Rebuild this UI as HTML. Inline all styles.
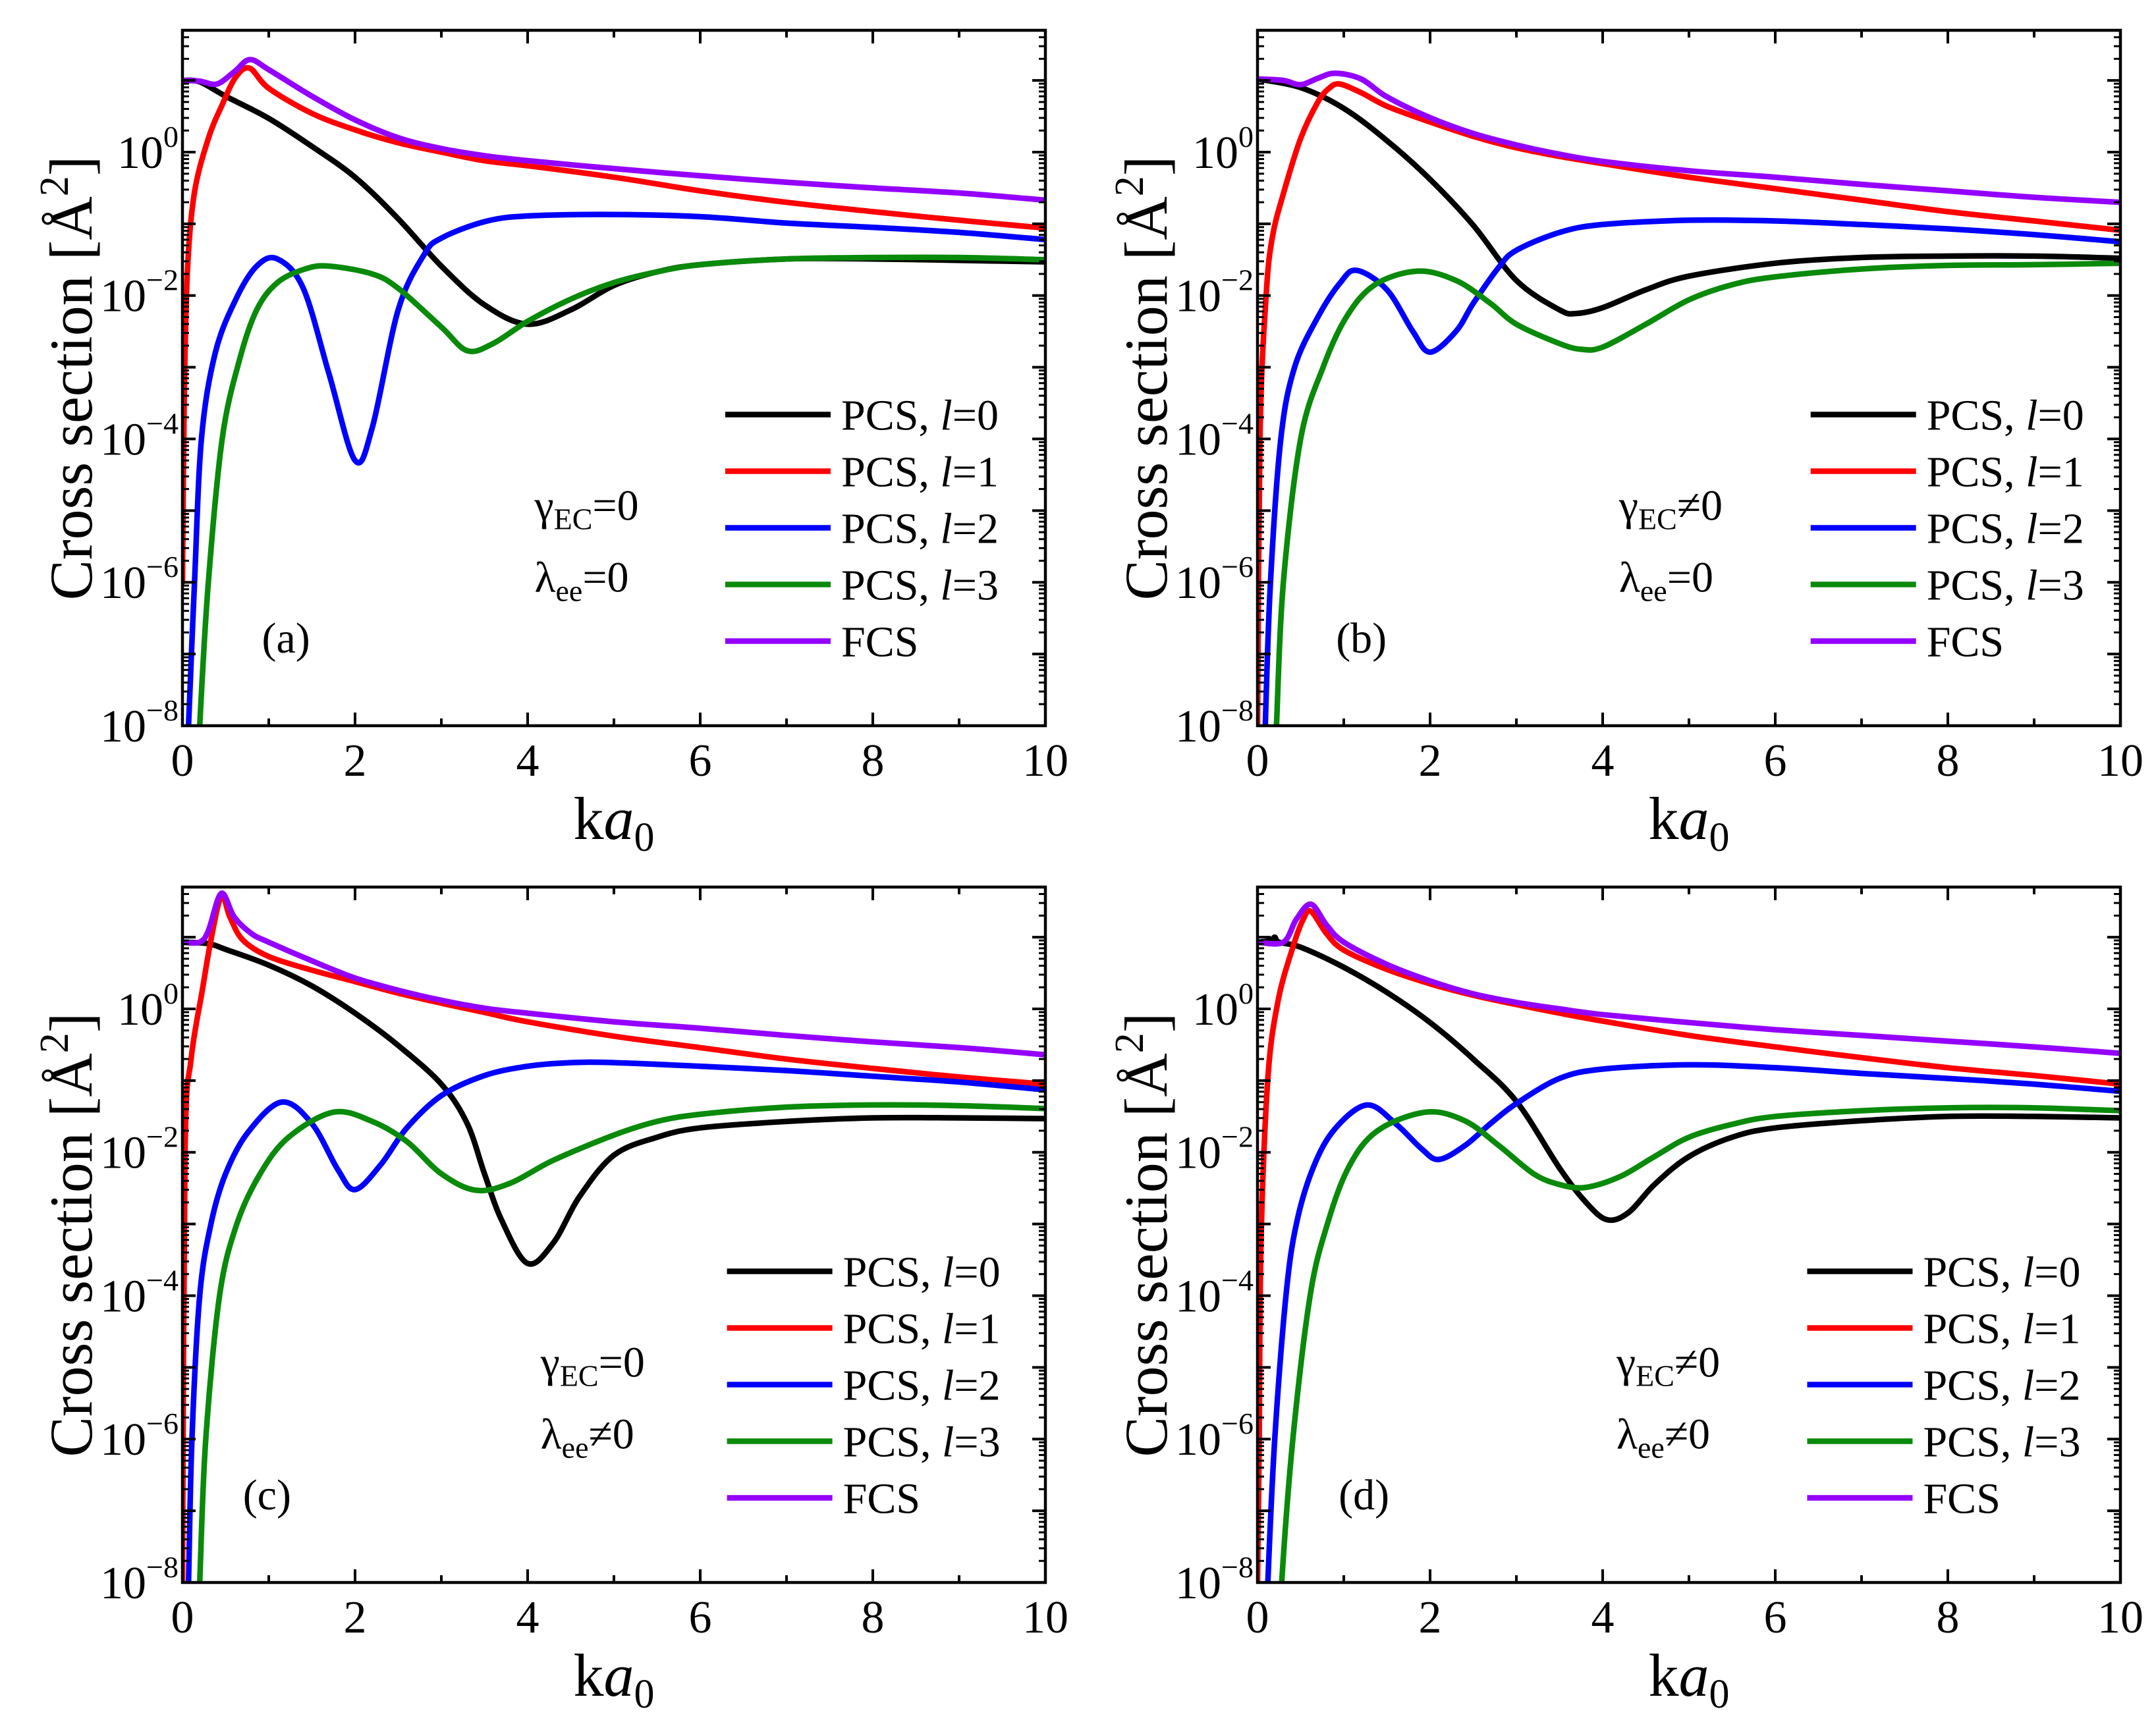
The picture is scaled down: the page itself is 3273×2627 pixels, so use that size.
<!DOCTYPE html>
<html><head><meta charset="utf-8"><style>
html,body{margin:0;padding:0;background:#fff;}
svg{display:block;}
svg text{font-family:"Liberation Serif","Times New Roman",serif;}
</style></head><body>
<svg id="fig" width="3273" height="2627" viewBox="0 0 3273 2627" xmlns="http://www.w3.org/2000/svg" font-family="Liberation Serif, serif"></svg>
<script>
// ---- Panel (a) data: x = ka0, y = log10(cross section) ----
const aL0x=[0,0.2,0.5,1,1.5,2,2.5,3,3.5,4,4.5,5,5.5,6,7,8,9,10];
const aL0y=[1.0,0.98,0.78,0.47,0.08,-0.35,-0.93,-1.59,-2.13,-2.4,-2.2,-1.86,-1.67,-1.57,-1.49,-1.49,-1.51,-1.53];
const aL1x=[0,0.02,0.056,0.137,0.3,0.46,0.62,0.78,1,1.5,2,2.5,3,3.5,4,5,6,7,8,9,10];
const aL1y=[-6,-3.5,-1.7,-0.58,0.19,0.66,1.05,1.17,0.89,0.54,0.31,0.13,0,-0.12,-0.19,-0.35,-0.54,-0.7,-0.83,-0.95,-1.06];
const aL2x=[0.05,0.07,0.14,0.22,0.38,0.62,0.86,1.1,1.4,1.7,2.0,2.2,2.5,2.8,3,3.5,4,5,6,7,8,9,10];
const aL2y=[-9,-8,-6,-4,-2.8,-2.05,-1.59,-1.49,-1.9,-3.1,-4.3,-3.84,-2.2,-1.43,-1.2,-0.97,-0.89,-0.87,-0.9,-0.99,-1.05,-1.12,-1.22];
const aL3x=[0.17,0.2,0.3,0.46,0.66,0.86,1.1,1.42,1.7,2.2,2.5,3,3.3,3.6,4,4.5,5,5.5,6,7,8,9,10];
const aL3y=[-9,-8,-6,-4,-2.9,-2.2,-1.82,-1.63,-1.59,-1.7,-1.9,-2.44,-2.77,-2.67,-2.36,-2.05,-1.82,-1.67,-1.57,-1.49,-1.47,-1.47,-1.5];
const aFx=[0,0.2,0.4,0.6,0.78,1,1.5,2,2.5,3,3.5,4,5,6,7,8,9,10];
const aFy=[1.0,0.99,0.95,1.12,1.29,1.15,0.78,0.45,0.2,0.05,-0.05,-0.12,-0.23,-0.33,-0.42,-0.5,-0.57,-0.67];
// ---- Panel (b) ----
const bL0x=[0,0.5,1,1.5,2,2.5,3,3.5,3.7,4,4.5,5,6,7,8,9,10];
const bL0y=[1.02,0.9,0.61,0.16,-0.38,-1.02,-1.79,-2.2,-2.25,-2.17,-1.92,-1.73,-1.55,-1.47,-1.45,-1.45,-1.48];
const bL1x=[0,0.03,0.1,0.17,0.3,0.5,0.7,0.83,0.95,1.2,1.5,2,2.5,3,3.5,4,5,6,7,8,9,10];
const bL1y=[-8,-3.9,-2,-1.2,-0.58,0.19,0.7,0.89,0.95,0.83,0.64,0.42,0.22,0.06,-0.06,-0.16,-0.35,-0.51,-0.67,-0.83,-0.96,-1.09];
const bL2x=[0.07,0.09,0.15,0.27,0.43,0.7,0.96,1.15,1.5,1.8,2.0,2.3,2.5,2.8,3,3.5,4,5,6,7,8,9,10];
const bL2y=[-9,-8,-6,-4,-3,-2.3,-1.82,-1.65,-1.92,-2.5,-2.79,-2.5,-2.11,-1.6,-1.37,-1.12,-1.01,-0.95,-0.96,-1.01,-1.07,-1.15,-1.25];
const bL3x=[0.19,0.22,0.3,0.5,0.76,1.03,1.36,1.85,2.3,2.7,3,3.5,3.75,4,4.5,5,5.5,6,7,8,9,10];
const bL3y=[-9,-8,-6,-4,-3,-2.3,-1.85,-1.66,-1.79,-2.11,-2.4,-2.67,-2.75,-2.72,-2.4,-2.06,-1.85,-1.74,-1.63,-1.58,-1.57,-1.55];
const bFx=[0,0.3,0.5,0.7,0.9,1.2,1.5,2,2.5,3,3.5,4,5,6,7,8,9,10];
const bFy=[1.02,1.0,0.94,1.03,1.1,1.02,0.77,0.48,0.26,0.1,-0.03,-0.13,-0.26,-0.35,-0.45,-0.54,-0.63,-0.7];
// ---- Panel (c) ----
const cL0x=[0,0.3,0.5,1,1.5,2,2.5,3,3.3,3.5,3.7,4,4.3,4.6,5,5.5,6,7,8,9,10];
const cL0y=[0.93,0.91,0.83,0.61,0.32,-0.06,-0.51,-1.05,-1.6,-2.3,-2.95,-3.55,-3.26,-2.62,-2.04,-1.79,-1.66,-1.57,-1.52,-1.52,-1.53];
const cL1x=[0,0.03,0.1,0.23,0.33,0.45,0.55,0.7,1,1.5,2,2.5,3,3.5,4,5,6,7,8,9,10];
const cL1y=[-8,-2,-0.7,0.26,0.96,1.57,1.28,0.96,0.73,0.54,0.38,0.22,0.08,-0.05,-0.18,-0.38,-0.54,-0.7,-0.83,-0.95,-1.05];
const cL2x=[0.05,0.07,0.11,0.2,0.33,0.5,0.76,1.15,1.5,1.8,2.0,2.3,2.6,3,3.5,4,4.5,5,6,7,8,9,10];
const cL2y=[-9,-8,-6,-4,-3,-2.3,-1.72,-1.3,-1.6,-2.24,-2.52,-2.17,-1.66,-1.21,-0.93,-0.8,-0.75,-0.75,-0.8,-0.86,-0.94,-1.02,-1.13];
const cL3x=[0.17,0.2,0.27,0.43,0.63,0.9,1.23,1.75,2.2,2.6,3,3.4,3.8,4.3,5,5.5,6,7,8,9,10];
const cL3y=[-9,-8,-6,-4,-3,-2.3,-1.79,-1.44,-1.57,-1.85,-2.3,-2.53,-2.43,-2.11,-1.76,-1.57,-1.47,-1.37,-1.34,-1.35,-1.39];
const cFx=[0,0.2,0.3,0.45,0.6,0.8,1,1.5,2,2.5,3,3.5,4,5,6,7,8,9,10];
const cFy=[0.93,0.93,1.09,1.61,1.28,1.05,0.93,0.67,0.43,0.26,0.12,0.01,-0.06,-0.18,-0.27,-0.37,-0.46,-0.54,-0.64];
// ---- Panel (d) ----
const dL0x=[0,0.15,0.2,0.25,0.5,1,1.5,2,2.5,3,3.5,3.8,4.05,4.3,4.6,5,5.5,6,7,8,9,10];
const dL0y=[0.93,0.95,1.0,0.93,0.86,0.58,0.23,-0.19,-0.7,-1.29,-2.22,-2.69,-2.94,-2.84,-2.45,-2.06,-1.79,-1.66,-1.56,-1.5,-1.5,-1.52];
const dL1x=[0,0.02,0.04,0.12,0.24,0.41,0.53,0.62,0.8,1,1.5,2,2.5,3,3.5,4,5,6,7,8,9,10];
const dL1y=[-8,-6,-3.3,-0.97,0.12,0.86,1.25,1.36,1.05,0.82,0.55,0.35,0.19,0.06,-0.06,-0.17,-0.37,-0.53,-0.68,-0.82,-0.93,-1.05];
const dL2x=[0.1,0.12,0.2,0.33,0.45,0.65,0.9,1.27,1.6,1.9,2.1,2.4,2.7,3,3.5,4,5,6,7,8,9,10];
const dL2y=[-9,-8,-6,-4,-3,-2.2,-1.67,-1.34,-1.6,-1.95,-2.1,-1.91,-1.6,-1.32,-0.97,-0.84,-0.78,-0.82,-0.9,-0.97,-1.05,-1.15];
const dL3x=[0.25,0.28,0.41,0.61,0.81,1.06,1.39,1.95,2.4,2.8,3.2,3.5,3.8,4.2,4.6,5,5.5,6,7,8,9,10];
const dL3y=[-9,-8,-6,-4,-3,-2.2,-1.7,-1.44,-1.56,-1.91,-2.3,-2.45,-2.49,-2.34,-2.06,-1.79,-1.61,-1.5,-1.42,-1.38,-1.38,-1.42];
const dFx=[0,0.3,0.45,0.62,0.8,1,1.5,2,2.5,3,3.5,4,5,6,7,8,9,10];
const dFy=[0.93,0.93,1.25,1.46,1.17,0.93,0.62,0.39,0.21,0.09,0,-0.08,-0.19,-0.29,-0.37,-0.45,-0.53,-0.62];

const xTicks=[0,2,4,6,8,10];
const yTickExps=[-8,-6,-4,-2,0];
const legendLabels=["PCS, ","PCS, ","PCS, ","PCS, ","FCS"];
const legendL=["0","1","2","3",null];
const colors=["#000000","#ff0000","#0000ff","#0a8a0a","#9400ff"];

const NS="http://www.w3.org/2000/svg";
const svg=document.getElementById('fig');
const W=1310,H=1056,LOGMIN=-8,LOGMAX=1.699;
const FONT='"Liberation Serif", serif';
function mk(tag,attrs,parent){const e=document.createElementNS(NS,tag);for(const k in attrs)e.setAttribute(k,attrs[k]);if(tag==='text')e.setAttribute('font-family',FONT);(parent||svg).appendChild(e);return e;}

const panels=[
 {id:'a',L:277,T:46,series:[[aL0x,aL0y],[aL1x,aL1y],[aL2x,aL2y],[aL3x,aL3y],[aFx,aFy]],gam:'=0',lam:'=0',lgx:6.29,annX:4.08,lblX:0.92},
 {id:'b',L:1909,T:46,series:[[bL0x,bL0y],[bL1x,bL1y],[bL2x,bL2y],[bL3x,bL3y],[bFx,bFy]],gam:'≠0',lam:'=0',lgx:6.41,annX:4.19,lblX:0.91},
 {id:'c',L:277,T:1347,series:[[cL0x,cL0y],[cL1x,cL1y],[cL2x,cL2y],[cL3x,cL3y],[cFx,cFy]],gam:'=0',lam:'≠0',lgx:6.31,annX:4.15,lblX:0.70},
 {id:'d',L:1909,T:1347,series:[[dL0x,dL0y],[dL1x,dL1y],[dL2x,dL2y],[dL3x,dL3y],[dFx,dFy]],gam:'≠0',lam:'≠0',lgx:6.37,annX:4.16,lblX:0.94}
];
const seriesNames=['pcs-l0-line','pcs-l1-line','pcs-l2-line','pcs-l3-line','fcs-line'];

function pathFrom(pts){
 let d='M'+pts[0][0].toFixed(1)+','+pts[0][1].toFixed(1);
 for(let i=0;i<pts.length-1;i++){
  const p0=pts[i-1]||pts[i],p1=pts[i],p2=pts[i+1],p3=pts[i+2]||p2;
  const c1=[p1[0]+(p2[0]-p0[0])/6,p1[1]+(p2[1]-p0[1])/6];
  const c2=[p2[0]-(p3[0]-p1[0])/6,p2[1]-(p3[1]-p1[1])/6];
  d+='C'+c1[0].toFixed(1)+','+c1[1].toFixed(1)+' '+c2[0].toFixed(1)+','+c2[1].toFixed(1)+' '+p2[0].toFixed(1)+','+p2[1].toFixed(1);
 }
 return d;
}

panels.forEach(P=>{
 const sx=v=>P.L+v/10*W;
 const sy=v=>P.T+(LOGMAX-v)/(LOGMAX-LOGMIN)*H;
 const g=mk('g',{});
 
 
 const cp=mk('clipPath',{id:'clip'+P.id},g);
 mk('rect',{x:P.L,y:P.T,width:W,height:H},cp);
 const sg=mk('g',{'clip-path':'url(#clip'+P.id+')'},g);
 P.series.forEach((s,i)=>{
  const pts=s[0].map((x,j)=>[sx(x),sy(s[1][j])]);
  const p=mk('path',{d:pathFrom(pts),fill:'none',stroke:colors[i],'stroke-width':8.5,'stroke-linejoin':'round','stroke-linecap':'round'},sg);
  
  
 });
 const tg=mk('g',{stroke:'#000','stroke-width':4},g);
 for(let x=0;x<=10;x++){
  const len=(x%2===0)?20:11;
  mk('line',{x1:sx(x),y1:P.T+H,x2:sx(x),y2:P.T+H-len},tg);
  mk('line',{x1:sx(x),y1:P.T,x2:sx(x),y2:P.T+len},tg);
 }
 for(let e=-8;e<=1;e++){
  for(let m=1;m<=9;m++){
   const v=e+Math.log10(m);
   if(v>LOGMAX)continue;
   const len=m===1?20:10;
   const w=m===1?4:3;
   mk('line',{x1:P.L,y1:sy(v),x2:P.L+len,y2:sy(v),'stroke-width':w},tg);
   mk('line',{x1:P.L+W,y1:sy(v),x2:P.L+W-len,y2:sy(v),'stroke-width':w},tg);
  }
 }
 const fr=mk('rect',{x:P.L,y:P.T,width:W,height:H,fill:'none',stroke:'#000','stroke-width':4.5},g);
 
 
 xTicks.forEach(v=>{
  const t=mk('text',{x:sx(v),y:P.T+H+76,'font-size':70,'text-anchor':'middle'},g);
  t.textContent=String(v);
  
  
 });
 yTickExps.forEach(e=>{
  const t=mk('text',{x:P.L-6,y:sy(e)+24,'font-size':70,'text-anchor':'end'},g);
  
  
  const a=mk('tspan',{},t);a.textContent='10';
  const b=mk('tspan',{dy:-32,'font-size':46},t);b.textContent=(e<0?'−':'')+Math.abs(e);
 });
 const xt=mk('text',{x:P.L+W/2,y:P.T+H+172,'font-size':92,'text-anchor':'middle'},g);
 
 
 const k1=mk('tspan',{},xt);k1.textContent='k';
 const k2=mk('tspan',{'font-style':'italic'},xt);k2.textContent='a';
 const k3=mk('tspan',{dy:18,'font-size':62},xt);k3.textContent='0';
 const cx=P.L-168,cy=P.T+H/2;
 const yt=mk('text',{x:cx,y:cy+30,'font-size':92,'text-anchor':'middle',transform:'rotate(-90 '+cx+' '+cy+')'},g);
 
 
 const y1=mk('tspan',{},yt);y1.textContent='Cross section [Å';
 const y2=mk('tspan',{dy:-36,'font-size':62},yt);y2.textContent='2';
 const y3=mk('tspan',{dy:36},yt);y3.textContent=']';
 const lg=mk('g',{},g);
 
 
 for(let i=0;i<5;i++){
  const ly=sy(-3.66-i*0.79);
  const x0=sx(P.lgx),x1=x0+160;
  const ln=mk('line',{x1:x0,y1:ly,x2:x1,y2:ly,stroke:colors[i],'stroke-width':8.5},lg);
  
  
  const t=mk('text',{x:x1+16,y:ly+23,'font-size':66},lg);
  
  
  const a=mk('tspan',{},t);a.textContent=legendLabels[i];
  if(legendL[i]!==null){
   const b=mk('tspan',{'font-style':'italic'},t);b.textContent='l';
   const c=mk('tspan',{},t);c.textContent='='+legendL[i];
  }
 }
 const ax=sx(P.annX);
 const g1=mk('text',{x:ax,y:sy(-4.93)+22,'font-size':66},g);
 
 
 const ga=mk('tspan',{},g1);ga.textContent='γ';
 const gb=mk('tspan',{dy:14,'font-size':46},g1);gb.textContent='EC';
 const gc=mk('tspan',{dy:-14},g1);gc.textContent=P.gam;
 const l1=mk('text',{x:ax,y:sy(-5.93)+22,'font-size':66},g);
 
 
 const la=mk('tspan',{},l1);la.textContent='λ';
 const lb=mk('tspan',{dy:14,'font-size':46},l1);lb.textContent='ee';
 const lc=mk('tspan',{dy:-14},l1);lc.textContent=P.lam;
 const pl=mk('text',{x:sx(P.lblX),y:sy(-6.78)+22,'font-size':66},g);
 
 
 pl.textContent='('+P.id+')';
});
</script>
</body></html>
